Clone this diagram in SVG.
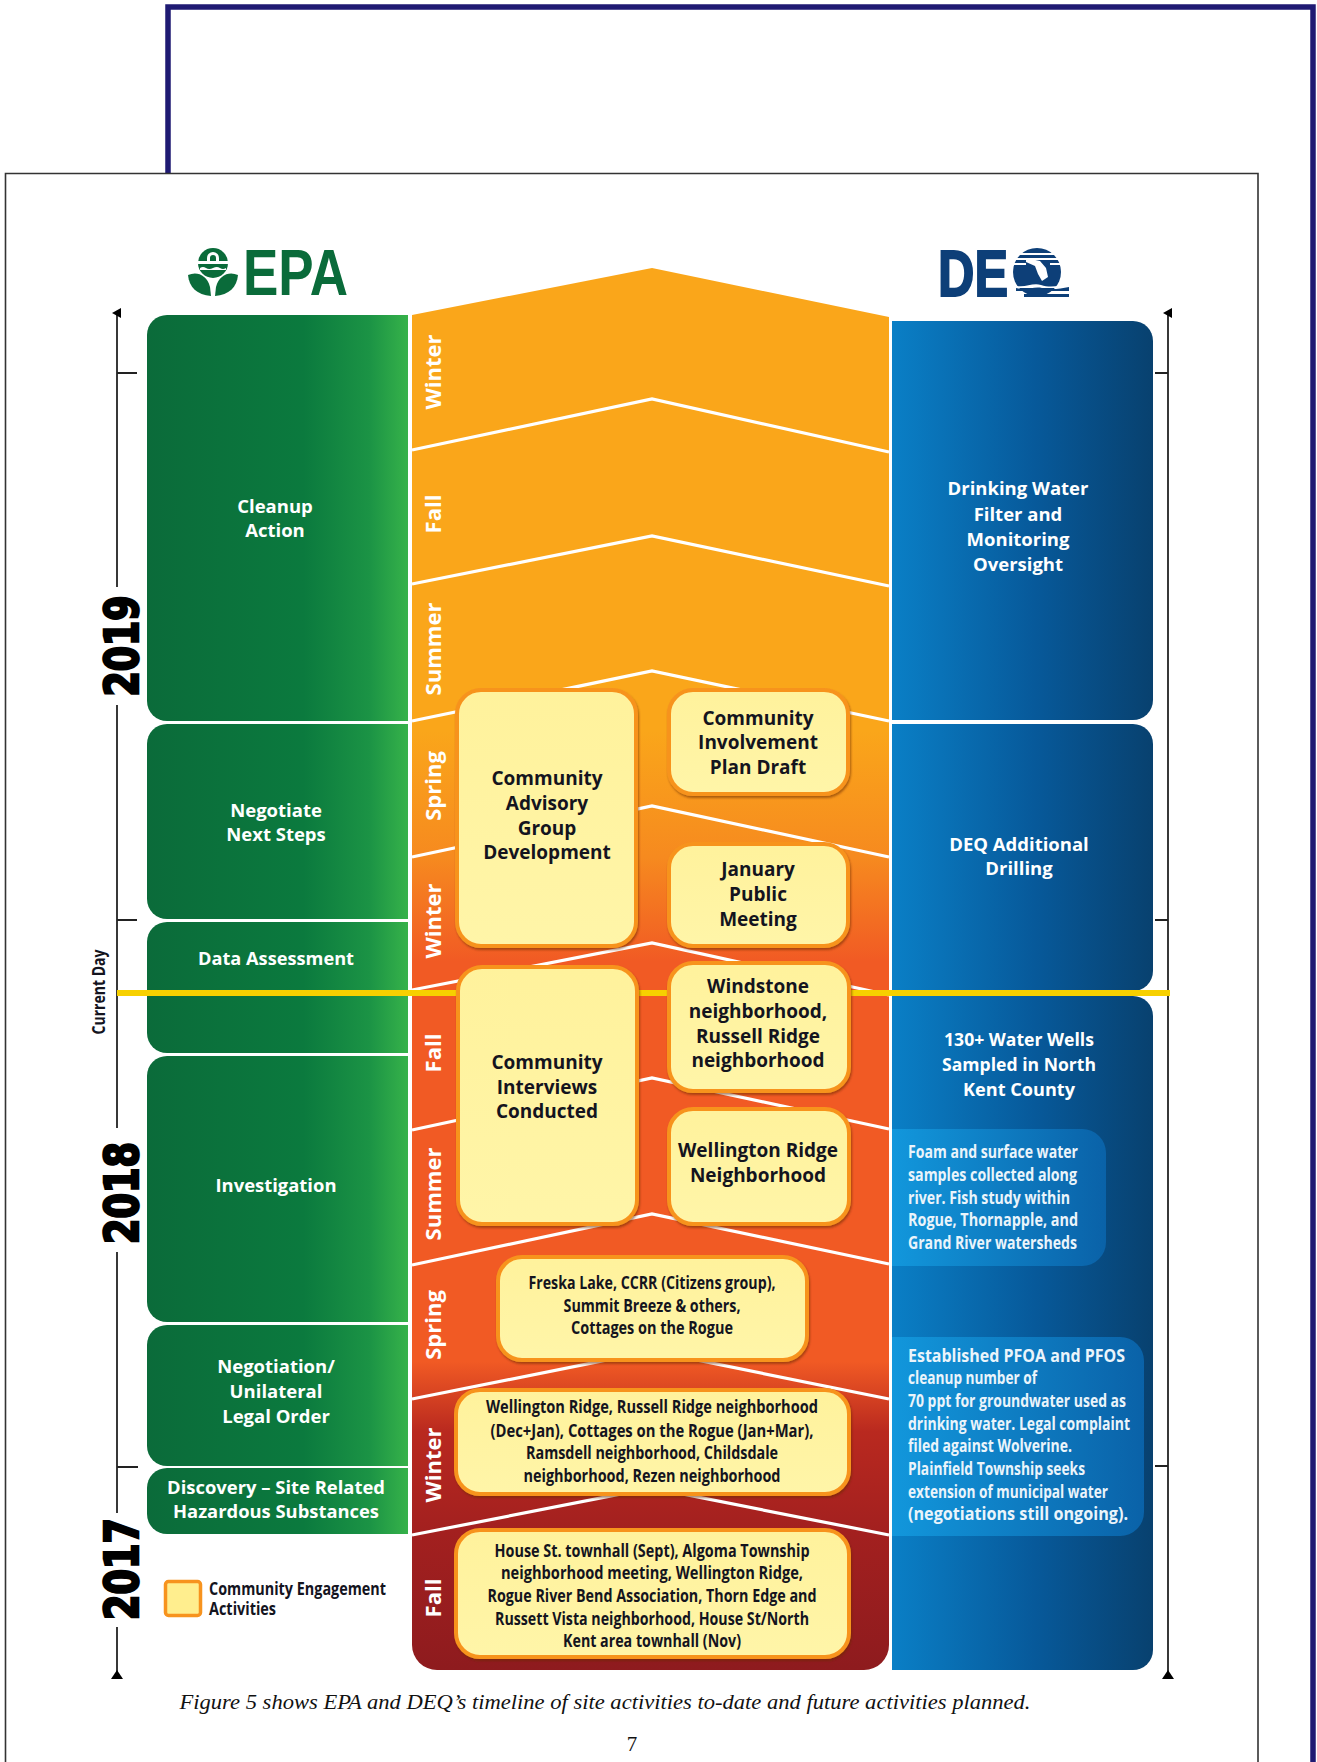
<svg xmlns="http://www.w3.org/2000/svg" width="1317" height="1762" viewBox="0 0 1317 1762">
<style>
text{font-family:"Open Sans","Noto Sans","Liberation Sans",sans-serif;font-weight:700}
.w{fill:#fff;font-size:18.5px;text-anchor:middle}
.s{fill:#fff;font-size:22px;text-anchor:middle}
.k{fill:#14141e;font-size:19px;text-anchor:middle}
.c{fill:#14141e;font-size:18px;text-anchor:middle}
.b{fill:#eaf4fb;font-size:18px}
.y{fill:#000;font-family:"DejaVu Sans",sans-serif;font-size:46px;text-anchor:middle;stroke:#000;stroke-width:2.6px}
.box{fill:url(#yel);stroke:#f7931e;stroke-width:4;filter:url(#sh)}
.g{fill:url(#gr)}
.bl{fill:url(#blu)}
.lt{fill:url(#blt)}
.sep{fill:none;stroke:#fff;stroke-width:3.2;stroke-linejoin:miter}
.ax{fill:none;stroke:#222;stroke-width:1.8}
</style>
<defs>
<linearGradient id="gr" x1="0" x2="1" y1="0" y2="0"><stop offset="0" stop-color="#0b6b3a"/><stop offset=".6" stop-color="#0b7a3e"/><stop offset=".85" stop-color="#1b9345"/><stop offset="1" stop-color="#36b24a"/></linearGradient>
<linearGradient id="blu" x1="0" x2="1" y1="0" y2="0"><stop offset="0" stop-color="#0a7fc6"/><stop offset=".55" stop-color="#07599a"/><stop offset="1" stop-color="#08416f"/></linearGradient>
<linearGradient id="blt" x1="0" x2="1" y1="0" y2="0"><stop offset="0" stop-color="#1297dc"/><stop offset="1" stop-color="#0a62a8"/></linearGradient>
<linearGradient id="yel" x1="0" x2="0" y1="0" y2="1"><stop offset="0" stop-color="#fff29c"/><stop offset="1" stop-color="#fff5a8"/></linearGradient>
<linearGradient id="col" gradientUnits="userSpaceOnUse" x1="0" x2="0" y1="268" y2="1670"><stop offset="0" stop-color="#faa61a"/><stop offset=".33" stop-color="#faa61a"/><stop offset=".42" stop-color="#f68a1f"/><stop offset=".495" stop-color="#f15a24"/><stop offset=".78" stop-color="#f15a24"/><stop offset=".83" stop-color="#b9291f"/><stop offset=".9" stop-color="#a3201f"/><stop offset="1" stop-color="#8e1b1e"/></linearGradient>
<filter id="sh" x="-10%" y="-10%" width="120%" height="120%"><feDropShadow dx="1" dy="2" stdDeviation="1.2" flood-color="#6b2c00" flood-opacity=".55"/></filter>
<marker id="ah" markerWidth="10" markerHeight="10" refX="5" refY="5" orient="auto" markerUnits="userSpaceOnUse"><path d="M0,9 L5,0 L10,9 Z" fill="#000"/></marker>
</defs>
<rect width="1317" height="1762" fill="#fff"/>
<g id="page">
<path d="M168 174V7H1313V1762" fill="none" stroke="#1f1a73" stroke-width="5.5"/>
<path d="M5.500 1762V173.500H1258V1762" fill="#fff" stroke="#333" stroke-width="1.600"/>
</g>
<g id="logo-epa">
<circle cx="213" cy="263" r="15" fill="#0a6b3a"/>
<path d="M196 261h34v3h-34z" fill="#fff"/>
<path d="M207 261v-3a6 6 0 0 1 12 0v3h-3v-3a3 3 0 0 0-6 0v3z" fill="#fff"/>
<path d="M200 268q3-2 6 0t7 0 7 0 6 0v2h-26z" fill="#fff"/>
<path d="M188 275c9-4 19 0 22 12l1 9c-14-1-22-9-23-21z" fill="#0a6b3a"/>
<path d="M238 275c-9-4-19 0-22 12l-1 9c14-1 22-9 23-21z" fill="#0a6b3a"/>
<text x="243" y="295" font-size="64" textLength="105" lengthAdjust="spacingAndGlyphs" style="font-family:'Liberation Sans',sans-serif;fill:#0a6b3a">EPA</text>
</g>
<g id="logo-deq">
<text x="938" y="296" font-size="64" textLength="70" lengthAdjust="spacingAndGlyphs" style="font-family:'Liberation Sans',sans-serif;fill:#0d3f78;stroke:#0d3f78;stroke-width:2">DE</text>
<circle cx="1037" cy="272" r="24" fill="#0d3f78"/>
<path d="M1014 253h46v2h-46zM1012 258h50v2h-50zM1012 263h14v2h-14zM1050 263h12v2h-12zM1026 258l14 3 6 7 2 9-6 4-4-7-3-8-9-4z" fill="#fff"/>
<path d="M1014 285c10 4 18-3 27 0s18 1 28-1v4h-55z" fill="#fff"/>
<path d="M1016 288c10 3 18-2 26 0s18 1 27-1v4h-53zM1024 294h45v3h-45z" fill="#0d3f78"/>
</g>
<g id="timeline">
<path d="M412 315L652 268L889 317V1645a25 25 0 0 1-25 25H437a25 25 0 0 1-25-25Z" fill="url(#col)"/>
</g>
<g id="season-lines">
<path class="sep" d="M412 450L652 399L889 452"/>
<path class="sep" d="M412 584L652 536L889 586"/>
<path class="sep" d="M412 721L652 671L889 721"/>
<path class="sep" d="M412 857L652 806L889 857"/>
<path class="sep" d="M412 990L652 943L889 995"/>
<path class="sep" d="M412 1130L652 1078L889 1129"/>
<path class="sep" d="M412 1265L652 1214L889 1264"/>
<path class="sep" d="M412 1399L652 1351L889 1399"/>
<path class="sep" d="M412 1535L652 1488L889 1535"/>
</g>
<g id="seasons">
<text class="s" transform="translate(441,372) rotate(-90)">Winter</text>
<text class="s" transform="translate(441,514) rotate(-90)">Fall</text>
<text class="s" transform="translate(441,649) rotate(-90)">Summer</text>
<text class="s" transform="translate(441,786) rotate(-90)">Spring</text>
<text class="s" transform="translate(441,921) rotate(-90)">Winter</text>
<text class="s" transform="translate(441,1053) rotate(-90)">Fall</text>
<text class="s" transform="translate(441,1194) rotate(-90)">Summer</text>
<text class="s" transform="translate(441,1325) rotate(-90)">Spring</text>
<text class="s" transform="translate(441,1465) rotate(-90)">Winter</text>
<text class="s" transform="translate(441,1598) rotate(-90)">Fall</text>
</g>
<g id="epa-cleanup"><path class="g" d="M167 315H408V721H167a20 20 0 0 1-20-20V335a20 20 0 0 1 20-20Z"/>
<text class="w" x="275" y="513">Cleanup</text><text class="w" x="275" y="537">Action</text></g>
<g id="epa-negotiate"><path class="g" d="M167 724H408V919H167a20 20 0 0 1-20-20V744a20 20 0 0 1 20-20Z"/>
<text class="w" x="276" y="817">Negotiate</text><text class="w" x="276" y="841">Next Steps</text></g>
<g id="epa-data"><path class="g" d="M167 922H408V1053H167a20 20 0 0 1-20-20V942a20 20 0 0 1 20-20Z"/>
<text class="w" x="276" y="965" textLength="156" lengthAdjust="spacingAndGlyphs">Data Assessment</text></g>
<g id="epa-investigation"><path class="g" d="M167 1056H408V1322H167a20 20 0 0 1-20-20V1076a20 20 0 0 1 20-20Z"/>
<text class="w" x="276" y="1192" textLength="121" lengthAdjust="spacingAndGlyphs">Investigation</text></g>
<g id="epa-negotiation"><path class="g" d="M167 1325H408V1466H167a20 20 0 0 1-20-20V1345a20 20 0 0 1 20-20Z"/>
<text class="w" x="276" y="1373">Negotiation/</text><text class="w" x="276" y="1398">Unilateral</text><text class="w" x="276" y="1423">Legal Order</text></g>
<g id="epa-discovery"><path class="g" d="M167 1468H408V1534H167a20 20 0 0 1-20-20V1488a20 20 0 0 1 20-20Z"/>
<text class="w" x="276" y="1494" textLength="218" lengthAdjust="spacingAndGlyphs">Discovery – Site Related</text><text class="w" x="276" y="1518" textLength="206" lengthAdjust="spacingAndGlyphs">Hazardous Substances</text></g>
<g id="deq-filter"><path class="bl" d="M892 321H1133a20 20 0 0 1 20 20V700a20 20 0 0 1-20 20H892Z"/>
<text class="w" x="1018" y="495">Drinking Water</text><text class="w" x="1018" y="521">Filter and</text><text class="w" x="1018" y="546">Monitoring</text><text class="w" x="1018" y="571">Oversight</text></g>
<g id="deq-drilling"><path class="bl" d="M892 724H1133a20 20 0 0 1 20 20V971a20 20 0 0 1-20 20H892Z"/>
<text class="w" x="1019" y="851">DEQ Additional</text><text class="w" x="1019" y="875">Drilling</text></g>
<g id="deq-wells"><path class="bl" d="M892 996H1133a20 20 0 0 1 20 20V1650a20 20 0 0 1-20 20H892Z"/>
<text class="w" x="1019" y="1046" textLength="150" lengthAdjust="spacingAndGlyphs">130+ Water Wells</text><text class="w" x="1019" y="1071" textLength="154" lengthAdjust="spacingAndGlyphs">Sampled in North</text><text class="w" x="1019" y="1096" textLength="112" lengthAdjust="spacingAndGlyphs">Kent County</text></g>
<g id="deq-foam"><path class="lt" d="M892 1129H1082a24 24 0 0 1 24 24V1242a24 24 0 0 1-24 24H892Z"/>
<text class="b" x="908" y="1158" textLength="170" lengthAdjust="spacingAndGlyphs">Foam and surface water</text>
<text class="b" x="908" y="1181" textLength="169" lengthAdjust="spacingAndGlyphs">samples collected along</text>
<text class="b" x="908" y="1204" textLength="162" lengthAdjust="spacingAndGlyphs">river. Fish study within</text>
<text class="b" x="908" y="1226" textLength="170" lengthAdjust="spacingAndGlyphs">Rogue, Thornapple, and</text>
<text class="b" x="908" y="1249" textLength="169" lengthAdjust="spacingAndGlyphs">Grand River watersheds</text></g>
<g id="deq-pfoa"><path class="lt" d="M892 1337H1120a24 24 0 0 1 24 24V1512a24 24 0 0 1-24 24H892Z"/>
<text class="b" x="908" y="1362" textLength="217" lengthAdjust="spacingAndGlyphs">Established PFOA and PFOS</text>
<text class="b" x="908" y="1384" textLength="129" lengthAdjust="spacingAndGlyphs">cleanup number of</text>
<text class="b" x="908" y="1407" textLength="218" lengthAdjust="spacingAndGlyphs">70 ppt for groundwater used as</text>
<text class="b" x="908" y="1430" textLength="222" lengthAdjust="spacingAndGlyphs">drinking water. Legal complaint</text>
<text class="b" x="908" y="1452" textLength="164" lengthAdjust="spacingAndGlyphs">filed against Wolverine.</text>
<text class="b" x="908" y="1475" textLength="177" lengthAdjust="spacingAndGlyphs">Plainfield Township seeks</text>
<text class="b" x="908" y="1498" textLength="200" lengthAdjust="spacingAndGlyphs">extension of municipal water</text>
<text class="b" x="908" y="1520" textLength="220" lengthAdjust="spacingAndGlyphs">(negotiations still ongoing).</text></g>
<g id="connectors">
<path class="ax" d="M117 587V313" marker-end="url(#ah)"/>
<path class="ax" d="M117 705V1128"/>
<path class="ax" d="M117 1252V1513"/>
<path class="ax" d="M117 1627V1676"/>
<path d="M111 1679L117 1670L123 1679Z" fill="#000"/>
<path class="ax" d="M117 373H137M117 920H137M117 1467H138"/>
<path class="ax" d="M1168 1676V313" marker-end="url(#ah)"/>
<path d="M1162 1679L1168 1670L1174 1679Z" fill="#000"/>
<path class="ax" d="M1155 373H1168M1155 920H1168M1155 1466H1168"/>
<path d="M117 993H1170" fill="none" stroke="#f7d000" stroke-width="6"/>
</g>
<g id="years">
<text class="y" transform="translate(138,646) rotate(-90)" textLength="101" lengthAdjust="spacingAndGlyphs">2019</text>
<text class="y" transform="translate(138,1193) rotate(-90)" textLength="102" lengthAdjust="spacingAndGlyphs">2018</text>
<text class="y" transform="translate(138,1569) rotate(-90)" textLength="102" lengthAdjust="spacingAndGlyphs">2017</text>
<text transform="translate(105,992) rotate(-90)" text-anchor="middle" font-size="18" textLength="85" lengthAdjust="spacingAndGlyphs" fill="#14141e">Current Day</text>
</g>
<g id="cag"><rect class="box" x="457" y="690" width="179" height="256" rx="24"/>
<text class="k" x="547" y="785">Community</text><text class="k" x="547" y="810">Advisory</text><text class="k" x="547" y="835">Group</text><text class="k" x="547" y="859">Development</text></g>
<g id="cip"><rect class="box" x="669" y="690" width="179" height="104" rx="24"/>
<text class="k" x="758" y="725">Community</text><text class="k" x="758" y="749">Involvement</text><text class="k" x="758" y="774">Plan Draft</text></g>
<g id="january"><rect class="box" x="669" y="844" width="179" height="102" rx="24"/>
<text class="k" x="758" y="876">January</text><text class="k" x="758" y="901">Public</text><text class="k" x="758" y="926">Meeting</text></g>
<g id="interviews"><rect class="box" x="458" y="967" width="179" height="257" rx="24"/>
<text class="k" x="547" y="1069">Community</text><text class="k" x="547" y="1094">Interviews</text><text class="k" x="547" y="1118">Conducted</text></g>
<g id="windstone"><rect class="box" x="669" y="963" width="180" height="128" rx="24"/>
<text class="k" x="758" y="993">Windstone</text><text class="k" x="758" y="1018">neighborhood,</text><text class="k" x="758" y="1043">Russell Ridge</text><text class="k" x="758" y="1067">neighborhood</text></g>
<g id="wellington"><rect class="box" x="669" y="1109" width="180" height="115" rx="24"/>
<text class="k" x="758" y="1157">Wellington Ridge</text><text class="k" x="758" y="1182">Neighborhood</text></g>
<g id="freska"><rect class="box" x="498" y="1257" width="309" height="103" rx="24"/>
<text class="c" x="652" y="1289" textLength="247" lengthAdjust="spacingAndGlyphs">Freska Lake, CCRR (Citizens group),</text>
<text class="c" x="652" y="1312" textLength="177" lengthAdjust="spacingAndGlyphs">Summit Breeze &amp; others,</text>
<text class="c" x="652" y="1334" textLength="162" lengthAdjust="spacingAndGlyphs">Cottages on the Rogue</text></g>
<g id="winter-meetings"><rect class="box" x="456" y="1390" width="393" height="104" rx="24"/>
<text class="c" x="652" y="1413" textLength="332" lengthAdjust="spacingAndGlyphs">Wellington Ridge, Russell Ridge neighborhood</text>
<text class="c" x="652" y="1437" textLength="323" lengthAdjust="spacingAndGlyphs">(Dec+Jan), Cottages on the Rogue (Jan+Mar),</text>
<text class="c" x="652" y="1459" textLength="252" lengthAdjust="spacingAndGlyphs">Ramsdell neighborhood, Childsdale</text>
<text class="c" x="652" y="1482" textLength="257" lengthAdjust="spacingAndGlyphs">neighborhood, Rezen neighborhood</text></g>
<g id="fall-meetings"><rect class="box" x="456" y="1530" width="393" height="127" rx="24"/>
<text class="c" x="652" y="1557" textLength="315" lengthAdjust="spacingAndGlyphs">House St. townhall (Sept), Algoma Township</text>
<text class="c" x="652" y="1579" textLength="302" lengthAdjust="spacingAndGlyphs">neighborhood meeting, Wellington Ridge,</text>
<text class="c" x="652" y="1602" textLength="329" lengthAdjust="spacingAndGlyphs">Rogue River Bend Association, Thorn Edge and</text>
<text class="c" x="652" y="1625" textLength="314" lengthAdjust="spacingAndGlyphs">Russett Vista neighborhood, House St/North</text>
<text class="c" x="652" y="1647" textLength="178" lengthAdjust="spacingAndGlyphs">Kent area townhall (Nov)</text></g>
<g id="legend"><rect x="165.500" y="1581.500" width="35" height="34" rx="3" fill="#ffee8e" stroke="#f7931e" stroke-width="3.500"/>
<text x="209" y="1595" font-size="17.500" textLength="177" lengthAdjust="spacingAndGlyphs" fill="#14141e">Community Engagement</text>
<text x="209" y="1615" font-size="17.500" textLength="67" lengthAdjust="spacingAndGlyphs" fill="#14141e">Activities</text></g>
<g id="caption">
<text x="605" y="1709" text-anchor="middle" font-size="21" textLength="851" lengthAdjust="spacingAndGlyphs" style="font-family:'Liberation Serif',serif;font-weight:400;font-style:italic" fill="#111">Figure 5 shows EPA and DEQ’s timeline of site activities to-date and future activities planned.</text>
<text x="632" y="1751" text-anchor="middle" font-size="21" style="font-family:'Liberation Serif',serif;font-weight:400" fill="#111">7</text>
</g>
</svg>
